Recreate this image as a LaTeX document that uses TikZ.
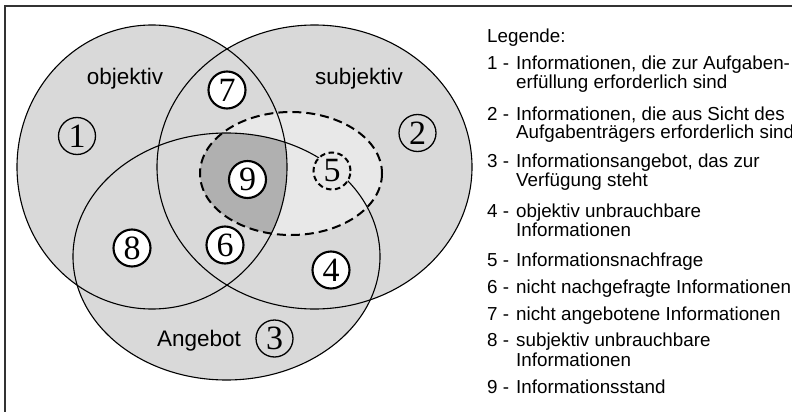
\documentclass[tikz,border=0pt]{standalone}
\usepackage{fontspec}
\setmainfont{Liberation Sans}
\newfontfamily\digitfont{Liberation Serif}
\begin{document}
\begin{tikzpicture}[x=1pt,y=-1pt,
  setfill/.style={fill=black!15},
  demandfill/.style={fill=black!9},
  statefill/.style={fill=black!31},
  setline/.style={draw=black,line width=1.1pt},
  demandline/.style={draw=black,line width=2pt,dash pattern=on 9pt off 5pt},
  frameline/.style={draw=black!80,line width=1.3pt},
  setlabel/.style={inner sep=0pt,font=\fontsize{22.5}{24}\selectfont},
  plainnum/.style={circle,draw=black,line width=1.3pt,minimum size=37pt,inner sep=0pt,
    font=\digitfont\fontsize{34}{34}\selectfont},
  boldnum/.style={plainnum,line width=2.1pt,fill=white},
  dashnum/.style={plainnum,line width=2pt,dash pattern=on 5.5pt off 3.5pt,fill=black!9},
  legtext/.style={anchor=base west,inner sep=0pt,font=\fontsize{18.8}{20}\selectfont}]
\useasboundingbox (0,0) rectangle (792,412);
\fill[white] (0,0) rectangle (792,412);

% centres of the sets
\coordinate (O) at (152,167);   % objektiv
\coordinate (S) at (314.5,167); % subjektiv
\coordinate (A) at (226.5,256.5); % Angebot
\coordinate (D) at (291,173.5); % Nachfrage

% frame
\draw[frameline] (5,412) -- (5,6) -- (792,6);

% set areas
\fill[setfill] (O) ellipse [x radius=135,y radius=142];
\fill[setfill] (S) ellipse [x radius=157.5,y radius=142];
\fill[setfill] (A) ellipse [x radius=153.5,y radius=123.5];
\fill[demandfill] (D) ellipse [x radius=91,y radius=61.5];
\begin{scope}
  \clip (O) ellipse [x radius=135,y radius=142];
  \clip (A) ellipse [x radius=153.5,y radius=123.5];
  \fill[statefill] (D) ellipse [x radius=91,y radius=61.5];
\end{scope}

% set outlines
\draw[setline] (O) ellipse [x radius=135,y radius=142];
\draw[setline] (S) ellipse [x radius=157.5,y radius=142];
\draw[setline] (A) ellipse [x radius=153.5,y radius=123.5];
\draw[demandline] (D) ellipse [x radius=91,y radius=61.5];

% set names
\node[setlabel] (lobj) at (125,78.5) {objektiv};
\node[setlabel] (lsub) at (359,78.5) {subjektiv};
\node[setlabel] (lang) at (199,341) {Angebot};

% numbered regions
\node[plainnum] (n1) at (77,136) {1};
\node[plainnum] (n2) at (417.5,133) {2};
\node[plainnum] (n3) at (274.5,338.5) {3};
\node[boldnum] (n4) at (331,270) {4};
\node[dashnum] (n5) at (332,171) {5};
\node[boldnum] (n6) at (225,245) {6};
\node[boldnum] (n7) at (227,90) {7};
\node[boldnum] (n8) at (132,248) {8};
\node[boldnum] (n9) at (247.5,179.5) {9};

% legend
\node[legtext] (leg) at (487,42.5) {Legende:};
\node[legtext] (k1) at (487,70) {1 -};
\node[legtext] (t1a) at (516,70) {Informationen, die zur Aufgaben-};
\node[legtext] (t1b) at (516,88.5) {erfüllung erforderlich sind};
\node[legtext] (k2) at (487,120) {2 -};
\node[legtext] (t2a) at (516,120) {Informationen, die aus Sicht des};
\node[legtext] (t2b) at (516,138.5) {Aufgabenträgers erforderlich sind};
\node[legtext] (k3) at (487,167.5) {3 -};
\node[legtext] (t3a) at (516,167.5) {Informationsangebot, das zur};
\node[legtext] (t3b) at (516,186) {Verfügung steht};
\node[legtext] (k4) at (487,217) {4 -};
\node[legtext] (t4a) at (516,217) {objektiv unbrauchbare};
\node[legtext] (t4b) at (516,236.5) {Informationen};
\node[legtext] (k5) at (487,266.5) {5 -};
\node[legtext] (t5) at (516,266.5) {Informationsnachfrage};
\node[legtext] (k6) at (487,293) {6 -};
\node[legtext] (t6) at (516,293) {nicht nachgefragte Informationen};
\node[legtext] (k7) at (487,320) {7 -};
\node[legtext] (t7) at (516,320) {nicht angebotene Informationen};
\node[legtext] (k8) at (487,346.5) {8 -};
\node[legtext] (t8a) at (516,346.5) {subjektiv unbrauchbare};
\node[legtext] (t8b) at (516,366) {Informationen};
\node[legtext] (k9) at (487,393.5) {9 -};
\node[legtext] (t9) at (516,393.5) {Informationsstand};
\end{tikzpicture}
\end{document}
